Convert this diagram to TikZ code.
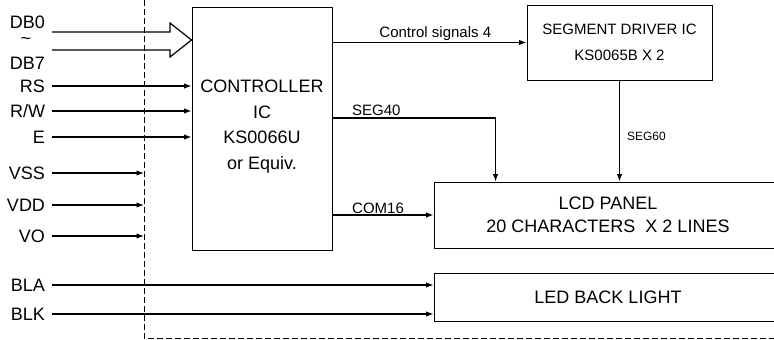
\documentclass[tikz,border=0pt]{standalone}
\usepackage{fontspec}
\setmainfont{Liberation Sans}
\usetikzlibrary{positioning, arrows.meta}

\tikzset{
  blockbox/.style={draw, line width=0.9pt, inner sep=0pt},
  sig/.style={line width=1.2pt, -{Latex[length=7.5pt,width=5.5pt]}},
  pin/.style={anchor=east, inner sep=0pt, outer xsep=7pt, font=\fontsize{18}{18}\selectfont},
  siglabel/.style={inner sep=0pt, font=\fontsize{15}{15}\selectfont},
}

\begin{document}
\begin{tikzpicture}[x=1pt, y=-1pt]
\useasboundingbox (0,0) rectangle (774,340);
\clip (0,0) rectangle (774,340);

\draw[dash pattern=on 6pt off 3pt, line width=0.8pt] (144,0) -- (144,338) -- (780,338);

\node[blockbox, minimum width=140pt, minimum height=243pt] (ctrl) at (262,128.5) {};
\node[align=center, font=\fontsize{18}{25.5}\selectfont] (ctrltext) at (262,126.5)
  {CONTROLLER\\IC\\KS0066U\\or Equiv.};

\node[blockbox, minimum width=185pt, minimum height=75pt, align=center,
      font=\fontsize{15}{26}\selectfont] (seg) at (619.5,42.5)
  {SEGMENT DRIVER IC\\KS0065B X 2};

\node[blockbox, minimum width=348pt, minimum height=66pt, align=center,
      font=\fontsize{18}{23}\selectfont] (lcd) at (608,215)
  {LCD PANEL\\20 CHARACTERS\ \ X 2 LINES};
\node[blockbox, minimum width=348pt, minimum height=48pt,
      font=\fontsize{18}{18}\selectfont] (led) at (608,297) {LED BACK LIGHT};

\node[pin] (db0) at (52,22) {DB0};
\node[inner sep=0pt, font=\fontsize{18}{18}\selectfont] (tilde) at (26,41) {\textasciitilde};
\node[pin] (db7) at (52,63) {DB7};
\draw[line width=1.2pt, line join=miter]
  (db0.east |- 0,32) -- (170,32) -- (170,23) -- (ctrl.west |- 0,40)
  -- (170,57) -- (170,50) -- (db7.east |- 0,50);

\foreach \nm/\txt/\y in {rs/RS/86, rw/{R/W}/111, en/E/137}{
  \node[pin] (\nm) at (52,\y) {\txt};
  \draw[sig] (\nm.east) -- (ctrl.west |- \nm.east);
}
\foreach \nm/\txt/\y in {vss/VSS/173, vdd/VDD/205, vo/VO/236}{
  \node[pin] (\nm) at (52,\y) {\txt};
  \draw[sig] (\nm.east) -- (\nm.east -| 144,0);
}
\foreach \nm/\txt/\y in {bla/BLA/285, blk/BLK/314}{
  \node[pin] (\nm) at (52,\y) {\txt};
  \draw[sig] (\nm.east) -- (led.west |- \nm.east);
}

\draw[sig] (ctrl.east |- seg.west) -- (seg.west)
  node[siglabel, pos=0.53, above=1pt] (ctlsig) {Control signals 4};

\draw[sig] (ctrl.east |- 0,118) -| ([xshift=62pt]lcd.north west);
\node[siglabel, anchor=base west] (seg40) at (352,115) {SEG40};

\draw[sig] (seg.south) -- (seg.south |- lcd.north)
  node[siglabel, font=\fontsize{12}{12}\selectfont, pos=0.55, right=7pt] (seg60) {SEG60};

\draw[sig] (ctrl.east |- lcd.west) -- (lcd.west);
\node[siglabel, anchor=base west] (com16) at (352,213) {COM16};
\end{tikzpicture}
\end{document}
